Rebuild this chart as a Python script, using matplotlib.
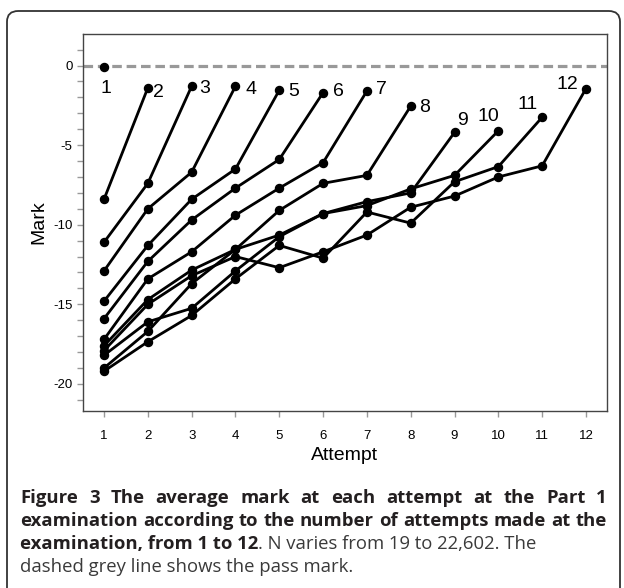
import matplotlib
matplotlib.use('Agg')
import matplotlib.pyplot as plt
from matplotlib.patches import FancyBboxPatch
from matplotlib import font_manager

# average mark per attempt, one list per group (number of attempts made)
attempts_1 = [-0.1]
attempts_2 = [-8.4, -1.4]
attempts_3 = [-11.1, -7.4, -1.3]
attempts_4 = [-12.9, -9.0, -6.7, -1.3]
attempts_5 = [-14.8, -11.3, -8.4, -6.5, -1.55]
attempts_6 = [-15.9, -12.3, -9.7, -7.7, -5.9, -1.7]
attempts_7 = [-17.2, -13.4, -11.7, -9.4, -7.7, -6.1, -1.6]
attempts_8 = [-17.6, -14.7, -12.85, -11.55, -9.1, -7.4, -6.9, -2.55]
attempts_9 = [-19.0, -16.7, -13.7, -11.55, -10.65, -9.3, -8.55, -8.0, -4.2]
attempts_10 = [-18.2, -16.1, -15.25, -12.9, -10.75, -9.3, -8.8, -7.75, -6.9, -4.1]
attempts_11 = [-19.2, -17.35, -15.7, -13.4, -11.3, -12.1, -9.2, -9.9, -7.3, -6.35, -3.25]
attempts_12 = [-17.9, -15.0, -13.2, -12.0, -12.7, -11.7, -10.65, -8.9, -8.2, -7.0, -6.3, -1.45]

groups = [attempts_1, attempts_2, attempts_3, attempts_4, attempts_5, attempts_6,
          attempts_7, attempts_8, attempts_9, attempts_10, attempts_11, attempts_12]
group_labels = ['1', '2', '3', '4', '5', '6', '7', '8', '9', '10', '11', '12']
pass_mark = 0

# label centre offsets from the last point, in pixels (right, down)
label_offsets = [(2, 21), (11, 5), (13, 2), (16, 3), (14, 1), (15, -1),
                 (15, -1), (14, 1), (8, -12), (-10, -14), (-15, -13), (-19, -4)]

W, H = 624, 588
fig = plt.figure(figsize=(W / 100, H / 100), dpi=100)

# outer rounded frame, cut off at the bottom
frame = FancyBboxPatch((7 / W, -0.05), (620 - 7) / W, 1 - 11 / H + 0.05,
                       boxstyle='round,pad=0,rounding_size=0.018',
                       transform=fig.transFigure, fill=False, edgecolor='#333333',
                       linewidth=1.3)
fig.patches.append(frame)

ax = fig.add_axes([83 / W, 1 - 411 / H, (607 - 83) / W, (411 - 34) / H])

ax.axhline(pass_mark, color='#999999', linestyle=(0, (3.0, 1.5)), linewidth=2.3, zorder=1)

for vals, lab, (dx, dy) in zip(groups, group_labels, label_offsets):
    xs = list(range(1, len(vals) + 1))
    ax.plot(xs, vals, color='black', linewidth=2.0, marker='o', markersize=5.8, zorder=3)
    ax.annotate(lab, (xs[-1], vals[-1]), xytext=(dx * 0.72, -dy * 0.72),
                textcoords='offset points', ha='center', va='center',
                fontsize=14, family='Liberation Sans')

ax.set_xlim(0.52, 12.48)
ax.set_ylim(-21.7, 1.98)
ax.set_xticks(range(1, 13))
ax.set_xticklabels([str(i) for i in range(1, 13)], fontsize=9.5, family='Liberation Sans')
ax.set_yticks(range(-21, 2))
ax.set_yticklabels([str(v) if v % 5 == 0 else '' for v in range(-21, 2)],
                   fontsize=9.5, family='Liberation Sans')
ax.tick_params(axis='both', color='#999999', length=4.5, width=1)
ax.tick_params(axis='x', pad=9)
ax.tick_params(axis='y', pad=3)
for sp in ax.spines.values():
    sp.set_color('#444444')
    sp.set_linewidth(1)

ax.set_xlabel('Attempt', fontsize=14, family='Liberation Sans', labelpad=4)
ax.set_ylabel('Mark', fontsize=14, family='Liberation Sans', labelpad=4)

# caption
names = {f.name for f in font_manager.fontManager.ttflist}
cap_font = 'Liberation Sans Narrow' if 'Liberation Sans Narrow' in names else 'Open Sans'
cap_size = 13.3
bold_col = '#231f20'
reg_col = '#3a3a3a'

fig.canvas.draw()
renderer = fig.canvas.get_renderer()


def width_of(t):
    return t.get_window_extent(renderer).width


def justified(text, y, x0=20, x1=607):
    words = text.split()
    items = [fig.text(0, 1 - y / H, w, fontsize=cap_size, family=cap_font,
                      weight='bold', color=bold_col, va='baseline') for w in words]
    widths = [width_of(t) for t in items]
    gap = (x1 - x0 - sum(widths)) / (len(words) - 1)
    x = x0
    for t, w in zip(items, widths):
        t.set_x(x / W)
        x += w + gap


def pieces(parts, y, x0=20):
    x = x0
    for s, bold in parts:
        t = fig.text(x / W, 1 - y / H, s, fontsize=cap_size, family=cap_font,
                     weight='bold' if bold else 'normal',
                     color=bold_col if bold else reg_col, va='baseline')
        x += width_of(t)


justified('Figure 3 The average mark at each attempt at the Part 1', 503)
justified('examination according to the number of attempts made at the', 526)
pieces([('examination, from 1 to 12', True), ('. N varies from 19 to 22,602. The', False)], 549)
pieces([('dashed grey line shows the pass mark.', False)], 572)

fig.savefig('out.png', dpi=100)
